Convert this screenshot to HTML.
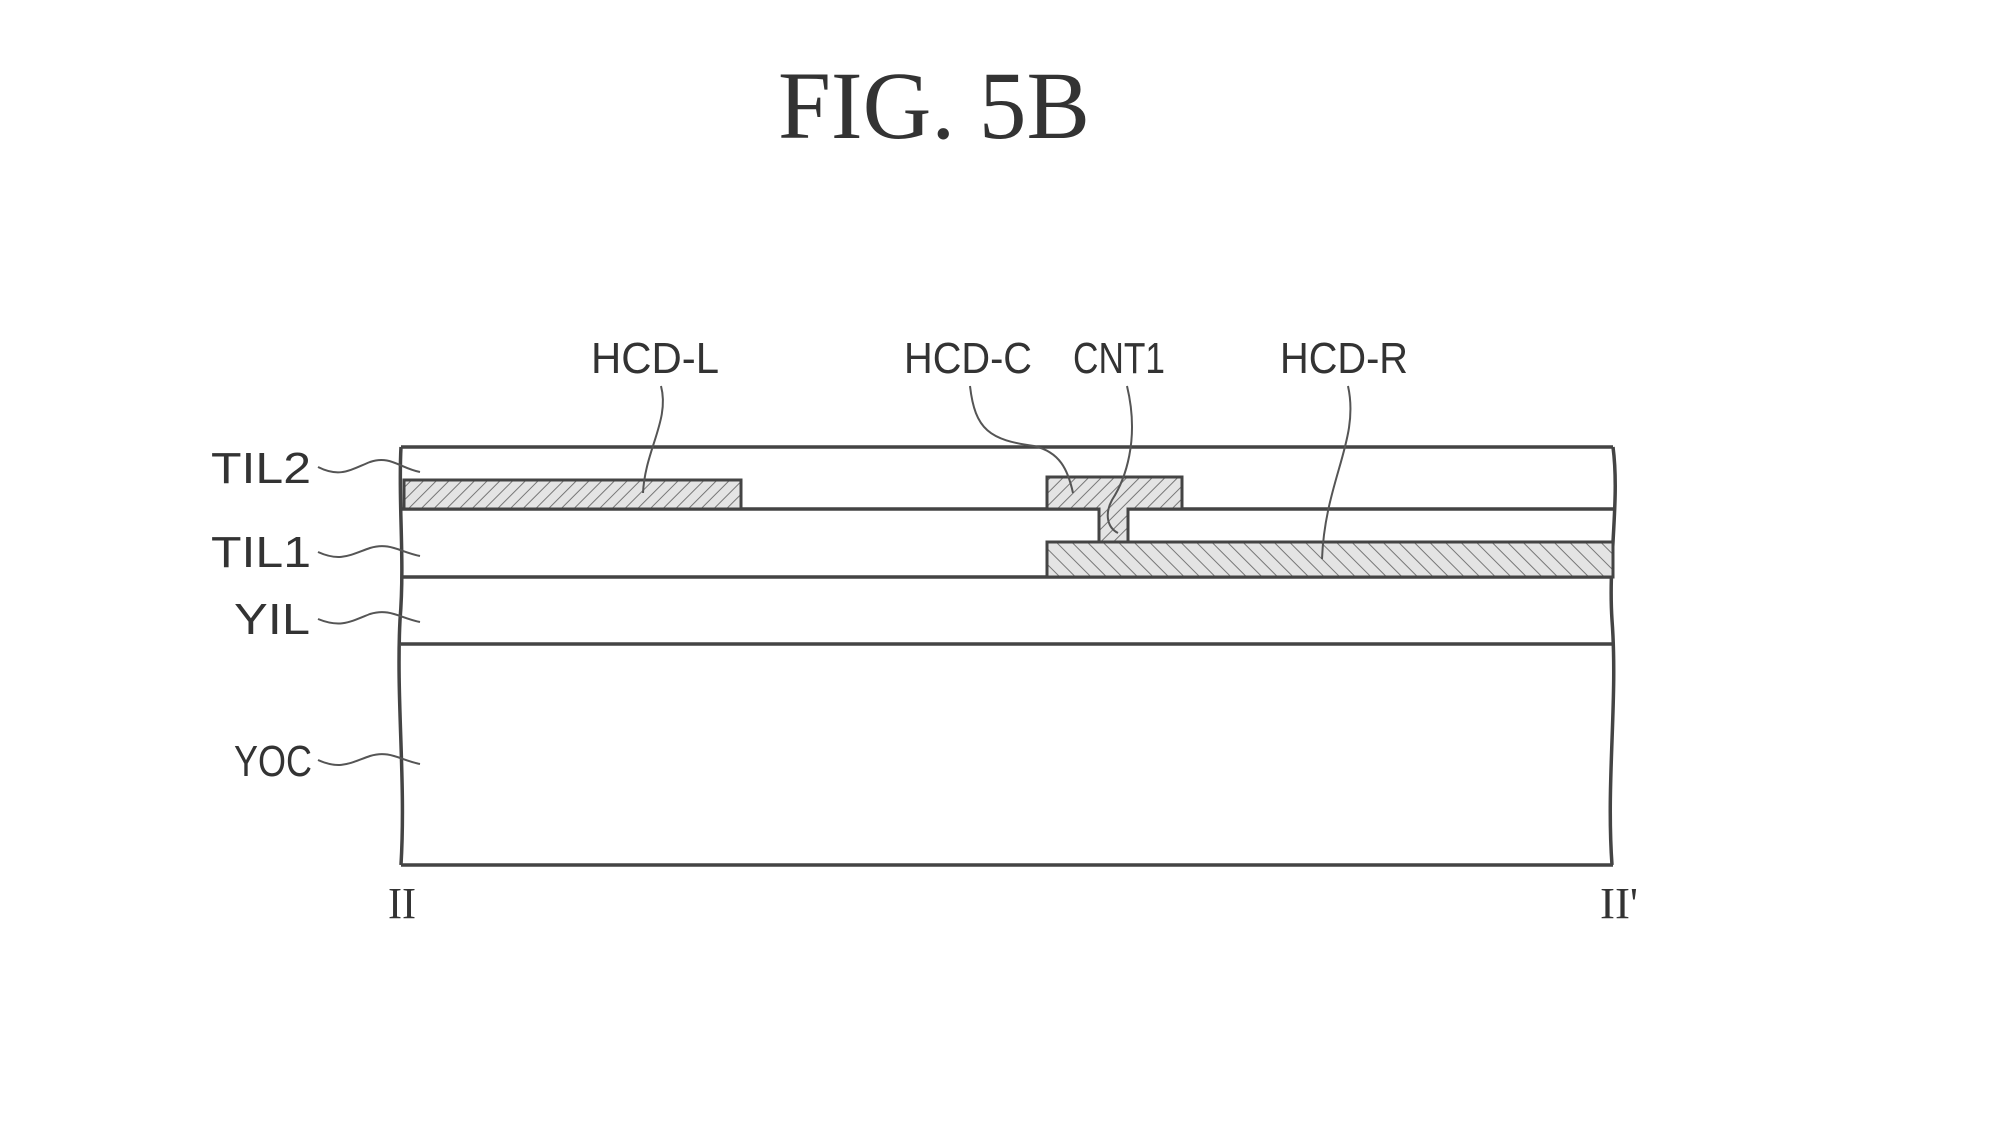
<!DOCTYPE html>
<html><head><meta charset="utf-8"><style>
html,body{margin:0;padding:0;background:#fff;}
svg{display:block;}
text{font-family:"Liberation Sans",sans-serif;fill:#333;}
</style></head><body>
<svg width="2000" height="1125" viewBox="0 0 2000 1125" xmlns="http://www.w3.org/2000/svg">
<defs>
<pattern id="h1" patternUnits="userSpaceOnUse" width="9" height="9" patternTransform="rotate(45)">
<rect width="9" height="9" fill="#e4e4e4"/><line x1="0" y1="0" x2="0" y2="9" stroke="#777" stroke-width="2"/></pattern>
<pattern id="h2" patternUnits="userSpaceOnUse" width="11" height="11" patternTransform="rotate(-45)">
<rect width="11" height="11" fill="#e4e4e4"/><line x1="0" y1="0" x2="0" y2="11" stroke="#777" stroke-width="2"/></pattern>
</defs>
<text x="778" y="138" style="font-family:'Liberation Serif',serif;fill:#333" font-size="96" textLength="312" lengthAdjust="spacingAndGlyphs">FIG. 5B</text>

<g stroke="#444" stroke-width="3.5" fill="none">
<path d="M401 447 C398 500,405 560,400 620 C396 700,406 780,401 865"/>
<path d="M1613 447 C1620 500,1608 560,1612 620 C1618 700,1606 780,1612 865"/>
<line x1="401" y1="447" x2="1613" y2="447"/>
<line x1="401" y1="865" x2="1613" y2="865"/>
<line x1="401" y1="644" x2="1612" y2="644"/>
<line x1="401" y1="577" x2="1612" y2="577"/>
<line x1="401" y1="509" x2="1099" y2="509"/>
<line x1="1128" y1="509" x2="1613" y2="509"/>
</g>
<rect x="404" y="480" width="337" height="29" fill="url(#h1)" stroke="#444" stroke-width="3"/>
<path d="M1047 509 V477 H1182 V509 H1128 V542 H1099 V509 Z" fill="url(#h1)" stroke="#444" stroke-width="3"/>
<rect x="1047" y="542" width="566" height="35" fill="url(#h2)" stroke="#444" stroke-width="3"/>

<g stroke="#555" stroke-width="2" fill="none">
<path d="M318 467 C340 478,350 470,370 462 C390 455,400 468,420 472"/>
<path d="M318 552 C340 562,350 555,370 548 C390 542,400 552,420 556"/>
<path d="M318 619 C340 628,350 622,370 614 C390 608,400 618,420 622"/>
<path d="M318 760 C340 770,350 763,370 756 C390 750,400 760,420 764"/>
<path d="M661 386 C670 420,645 450,643 493"/>
<path d="M970 386 C975 430,990 440,1034 446 C1060 452,1068 470,1073 493"/>
<path d="M1127 386 C1140 440,1125 480,1112 500 C1104 515,1108 528,1118 533"/>
<path d="M1348 386 C1360 440,1325 480,1322 559"/>
</g>

<g font-size="44">
<text x="211" y="483" textLength="100" lengthAdjust="spacingAndGlyphs">TIL2</text>
<text x="211" y="567" textLength="100" lengthAdjust="spacingAndGlyphs">TIL1</text>
<text x="234" y="634" textLength="76" lengthAdjust="spacingAndGlyphs">YIL</text>
<text x="234" y="776" textLength="78" lengthAdjust="spacingAndGlyphs">YOC</text>
<text x="591" y="373" textLength="128" lengthAdjust="spacingAndGlyphs">HCD-L</text>
<text x="904" y="373" textLength="128" lengthAdjust="spacingAndGlyphs">HCD-C</text>
<text x="1073" y="373" textLength="92" lengthAdjust="spacingAndGlyphs">CNT1</text>
<text x="1280" y="373" textLength="128" lengthAdjust="spacingAndGlyphs">HCD-R</text>
</g>
<text x="388" y="918" font-size="44" style="font-family:'Liberation Serif',serif" textLength="28" lengthAdjust="spacingAndGlyphs">II</text>
<text x="1600" y="918" font-size="44" style="font-family:'Liberation Serif',serif" textLength="38" lengthAdjust="spacingAndGlyphs">II'</text>
</svg>
</body></html>
